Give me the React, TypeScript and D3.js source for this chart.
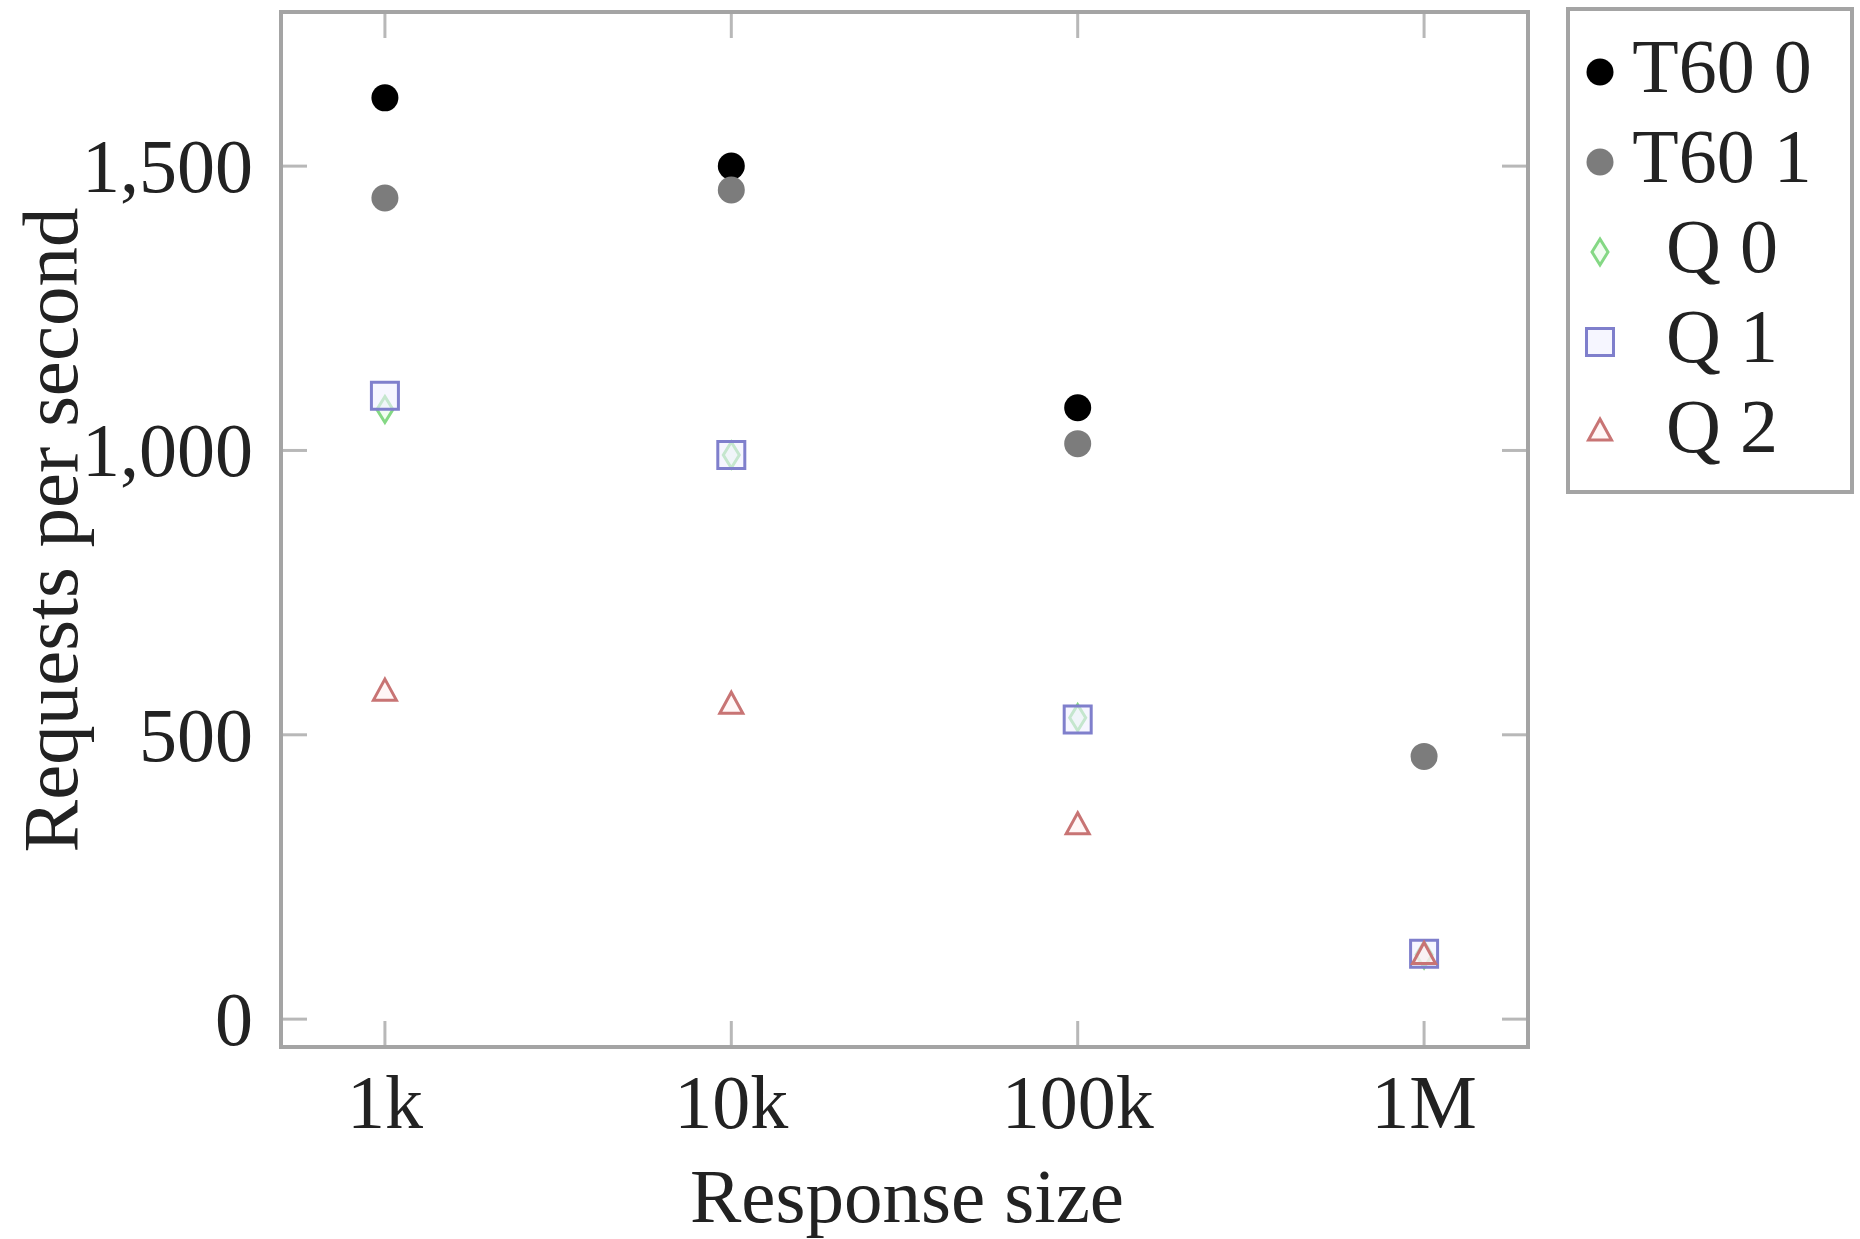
import React, { useEffect, useRef } from "react";
import * as d3 from "d3";

// Response sizes (x) and requests per second per series
const sizes = [1e3, 1e4, 1e5, 1e6];
const sizeLabels = ["1k", "10k", "100k", "1M"];
const yTicks = [0, 500, 1000, 1500];

const t60zero = [1620, 1500, 1075, null];
const t60one = [1444, 1458, 1012, 462];
const qZero = [1072, 992, 530, 113];
const qOne = [1096, 992, 527, 115];
const qTwo = [575, 552, 340, 112];

const seriesNames = ["T60 0", "T60 1", "Q 0", "Q 1", "Q 2"];
const seriesValues = [t60zero, t60one, qZero, qOne, qTwo];
const seriesMarks = ["circle", "circle", "diamond", "square", "triangle"];
const seriesStroke = ["#000000", "#7c7c7c", "#84d884", "#7f7fcc", "#c87474"];
const seriesFill = ["#000000", "#7c7c7c", "#e8fbe8", "#f0f0ff", "#fff0f0"];

const W = 1860;
const H = 1239;
const FONT = "'Liberation Serif', 'DejaVu Serif', serif";

const markPath = (kind) => {
  if (kind === "square") return "M-13.5,-13.5H13.5V13.5H-13.5Z";
  if (kind === "diamond") return "M0,-13L8,0L0,13L-8,0Z";
  if (kind === "triangle") return "M0,-13L11.5,8L-11.5,8Z";
  return null;
};

const ScatterChart = () => {
  const ref = useRef(null);

  useEffect(() => {
    const svg = d3.select(ref.current);
    svg.selectAll("*").remove();

    const left = 281,
      right = 1528,
      top = 12,
      bottom = 1047;

    const x = d3.scaleLog().domain([Math.pow(10, 2.7), Math.pow(10, 6.3)]).range([left, right]);
    const y = d3.scaleLinear().domain([-49, 1771]).range([bottom, top]);

    svg.append("rect").attr("width", W).attr("height", H).attr("fill", "#fff");

    // ticks (inside, on all four sides)
    const tickLen = 26;
    const ticks = svg.append("g").attr("stroke", "#b8b8b8").attr("stroke-width", 3);
    yTicks.forEach((t) => {
      ticks.append("line").attr("x1", left).attr("x2", left + tickLen).attr("y1", y(t)).attr("y2", y(t));
      ticks.append("line").attr("x1", right).attr("x2", right - tickLen).attr("y1", y(t)).attr("y2", y(t));
    });
    sizes.forEach((s) => {
      ticks.append("line").attr("x1", x(s)).attr("x2", x(s)).attr("y1", bottom).attr("y2", bottom - tickLen);
      ticks.append("line").attr("x1", x(s)).attr("x2", x(s)).attr("y1", top).attr("y2", top + tickLen);
    });

    // frame
    svg
      .append("rect")
      .attr("x", left)
      .attr("y", top)
      .attr("width", right - left)
      .attr("height", bottom - top)
      .attr("fill", "none")
      .attr("stroke", "#a4a4a4")
      .attr("stroke-width", 4);

    // tick labels
    svg
      .selectAll(".ylab")
      .data(yTicks)
      .enter()
      .append("text")
      .attr("x", 253)
      .attr("y", (d) => y(d) + 26)
      .attr("text-anchor", "end")
      .attr("font-family", FONT)
      .attr("font-size", 76)
      .attr("fill", "#222")
      .text((d) => d3.format(",")(d));

    svg
      .selectAll(".xlab")
      .data(sizes)
      .enter()
      .append("text")
      .attr("x", (d) => x(d))
      .attr("y", 1128)
      .attr("text-anchor", "middle")
      .attr("font-family", FONT)
      .attr("font-size", 76)
      .attr("fill", "#222")
      .text((d, i) => sizeLabels[i]);

    // axis titles
    svg
      .append("text")
      .attr("x", 907)
      .attr("y", 1222)
      .attr("text-anchor", "middle")
      .attr("font-family", FONT)
      .attr("font-size", 77)
      .attr("fill", "#222")
      .text("Response size");

    svg
      .append("text")
      .attr("transform", "translate(77,530) rotate(-90)")
      .attr("text-anchor", "middle")
      .attr("font-family", FONT)
      .attr("font-size", 79)
      .attr("fill", "#222")
      .text("Requests per second");

    // marks
    const drawMark = (g, kind, i, cx, cy) => {
      if (kind === "circle") {
        g.append("circle").attr("cx", cx).attr("cy", cy).attr("r", 13.5).attr("fill", seriesFill[i]);
      } else {
        g.append("path")
          .attr("d", markPath(kind))
          .attr("transform", `translate(${cx},${cy})`)
          .attr("fill", seriesFill[i])
          .attr("fill-opacity", 0.6)
          .attr("stroke", seriesStroke[i])
          .attr("stroke-width", 3);
      }
    };

    seriesValues.forEach((vals, i) => {
      const g = svg.append("g");
      vals.forEach((v, j) => {
        if (v == null) return;
        drawMark(g, seriesMarks[i], i, x(sizes[j]), y(v));
      });
    });

    // legend
    const lg = svg.append("g");
    lg.append("rect")
      .attr("x", 1568)
      .attr("y", 9)
      .attr("width", 284)
      .attr("height", 483)
      .attr("fill", "#fff")
      .attr("stroke", "#a4a4a4")
      .attr("stroke-width", 4);
    seriesNames.forEach((name, i) => {
      const base = 92 + i * 90;
      drawMark(lg, seriesMarks[i], i, 1600, base - 20);
      lg.append("text")
        .attr("x", 1722)
        .attr("y", base)
        .attr("text-anchor", "middle")
        .attr("font-family", FONT)
        .attr("font-size", 76)
        .attr("fill", "#222")
        .attr("xml:space", "preserve")
        .text(name);
    });
  }, []);

  return (
    <svg
      ref={ref}
      width={W}
      height={H}
      style={{ position: "absolute", left: 0, top: 0, display: "block" }}
    ></svg>
  );
};

export default function App() {
  return <ScatterChart />;
}
